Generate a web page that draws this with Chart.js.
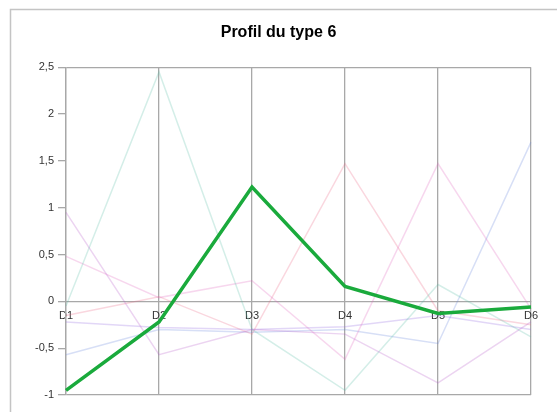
<!DOCTYPE html>
<html>
<head>
<meta charset="utf-8">
<script src="https://cdn.jsdelivr.net/npm/chart.js@4/dist/chart.umd.min.js"></script>
<style>
  html, body { margin: 0; padding: 0; background: #fff; overflow: hidden; }
  #wrap { position: relative; width: 557px; height: 412px; }
</style>
</head>
<body>
<div id="wrap"><canvas id="myChart" width="557" height="412"></canvas></div>
<script>
const chartTitle = "Profil du type 6";
const categories = ["D1", "D2", "D3", "D4", "D5", "D6"];
const yTicks = [-1, -0.5, 0, 0.5, 1, 1.5, 2, 2.5];

// the profile that is highlighted
const type6Values = [-0.95, -0.22, 1.22, 0.16, -0.13, -0.06];

// the other profiles, drawn faint behind it
const type1Values = [0.95, -0.57, -0.3, -0.35, -0.87, -0.22];
const type2Values = [-0.05, 2.45, -0.3, -0.95, 0.18, -0.38];
const type3Values = [0.48, 0.04, 0.22, -0.62, 1.47, -0.08];
const type4Values = [-0.15, 0.05, -0.35, 1.47, -0.1, -0.25];
const type5Values = [-0.22, -0.28, -0.3, -0.27, -0.15, -0.3];
const type7Values = [-0.57, -0.3, -0.33, -0.3, -0.45, 1.7];

const fadedColors = [
    'rgba(180, 90, 200, 0.26)',
    'rgba(90, 190, 165, 0.26)',
    'rgba(225, 100, 190, 0.26)',
    'rgba(235, 100, 130, 0.26)',
    'rgba(150, 110, 225, 0.28)',
    'rgba(100, 130, 220, 0.26)'
];

// frame around the whole chart object
const framePlugin = {
    id: 'frame',
    beforeDraw(chart) {
        const ctx = chart.ctx;
        ctx.save();
        ctx.strokeStyle = '#c4c4c4';
        ctx.lineWidth = 1.5;
        ctx.strokeRect(10.5, 9.5, 700, 600);
        ctx.restore();
    }
};

function makeDataset(values, color, width) {
    return {
        data: values,
        borderColor: color,
        backgroundColor: color,
        borderWidth: width,
        pointRadius: 0,
        tension: 0,
        fill: false
    };
}

function drawChart() {
    const faded = [type1Values, type2Values, type3Values, type4Values, type5Values, type7Values];
    const datasets = [makeDataset(type6Values, '#1aaa3c', 3.5)];
    faded.forEach((v, i) => datasets.push(makeDataset(v, fadedColors[i], 1.5)));

    const axisGray = '#a8a8a8';
    const labelFont = { family: 'Liberation Sans', size: 11 };

    return new Chart(document.getElementById('myChart').getContext('2d'), {
        type: 'line',
        data: { labels: categories, datasets: datasets },
        options: {
            responsive: false,
            animation: false,
            layout: { padding: { left: 26, right: 26, top: 0, bottom: 17 } },
            plugins: {
                legend: { display: false },
                tooltip: { enabled: false },
                title: {
                    display: true,
                    text: chartTitle,
                    color: '#000',
                    font: { family: 'Liberation Sans', size: 16, weight: 'bold' },
                    padding: { top: 23, bottom: 25 }
                }
            },
            scales: {
                x: {
                    position: { y: 0 },
                    offset: false,
                    grid: { color: axisGray, lineWidth: 1.3, drawTicks: false },
                    border: { display: true, color: axisGray, width: 1.3 },
                    ticks: { color: '#333', font: labelFont, padding: 8, maxRotation: 0 }
                },
                y: {
                    min: -1,
                    max: 2.5,
                    afterFit: (scale) => { scale.width = 40; },
                    afterBuildTicks: (scale) => { scale.ticks = yTicks.map(v => ({ value: v })); },
                    grid: {
                        color: (c) => (c.tick && (c.tick.value === 2.5 || c.tick.value === -1)) ? axisGray : 'rgba(0,0,0,0)',
                        tickColor: axisGray,
                        tickLength: 8,
                        lineWidth: 1.3
                    },
                    border: { display: true, color: axisGray, width: 1.3 },
                    ticks: {
                        color: '#333',
                        font: labelFont,
                        padding: 4,
                        callback: (value) => String(value).replace('.', ',')
                    }
                }
            }
        },
        plugins: [framePlugin]
    });
}

drawChart();
</script>
</body>
</html>
